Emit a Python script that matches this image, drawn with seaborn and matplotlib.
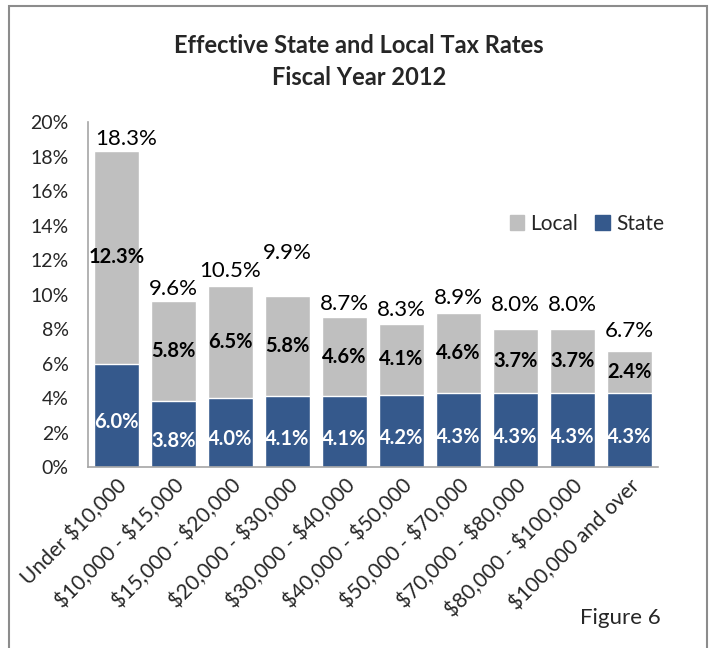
import numpy as np
import pandas as pd
import matplotlib
matplotlib.use("Agg")
import matplotlib.pyplot as plt
import seaborn as sns
from matplotlib.patches import Patch, Rectangle

brackets = ["Under $10,000", "$10,000 - $15,000", "$15,000 - $20,000",
            "$20,000 - $30,000", "$30,000 - $40,000", "$40,000 - $50,000",
            "$50,000 - $70,000", "$70,000 - $80,000", "$80,000 - $100,000",
            "$100,000 and over"]
state = [6.0, 3.8, 4.0, 4.1, 4.1, 4.2, 4.3, 4.3, 4.3, 4.3]
local = [12.3, 5.8, 6.5, 5.8, 4.6, 4.1, 4.6, 3.7, 3.7, 2.4]
total = [18.3, 9.6, 10.5, 9.9, 8.7, 8.3, 8.9, 8.0, 8.0, 6.7]

# nudges (points) for the total labels, as placed in the original
total_dx = [7, 0, 0, 0, 0, 0, 0, 0, 0, 0]
total_dy = [0, 0, 2, 22, 0, 1, 2, 8, 8, 6]

sns.set_theme(style="white")
plt.rcParams["font.family"] = ["Lato", "DejaVu Sans"]

df = pd.DataFrame({"bracket": brackets, "State": state, "Local": local, "Total": total})

blue = "#35598C"
grey = "#BFBFBF"

fig = plt.figure(figsize=(7.18, 6.48), dpi=100)
ax = fig.add_axes([0.1226, 0.2793, 0.7939, 0.5324])

sns.barplot(data=df, x="bracket", y="Total", color=grey, width=0.78,
            saturation=1, ax=ax)
sns.barplot(data=df, x="bracket", y="State", color=blue, width=0.78,
            saturation=1, ax=ax)

for i in range(len(brackets)):
    ax.text(i, state[i] / 2 - 0.4, f"{state[i]:.1f}%", ha="center", va="center",
            color="white", fontsize=14.5, fontweight="bold")
    ax.text(i, state[i] + local[i] / 2, f"{local[i]:.1f}%", ha="center", va="center",
            color="black", fontsize=14.5, fontweight="bold")
    ax.annotate(f"{total[i]:.1f}%", (i, total[i]),
                xytext=(total_dx[i], 9 + total_dy[i]),
                textcoords="offset points", ha="center", va="center",
                color="black", fontsize=16)

ax.set_ylim(0, 20)
ax.set_xlim(-0.5, len(brackets) - 0.5)
ax.set_yticks(np.arange(0, 21, 2))
ax.set_yticklabels([f"{v}%" for v in range(0, 21, 2)], fontsize=14)
ax.set_xticks(range(len(brackets)))
ax.set_xticklabels([b.replace("$", r"\$") for b in brackets], rotation=45,
                   ha="right", rotation_mode="anchor", fontsize=15)
ax.tick_params(axis="x", length=0, pad=6)
ax.tick_params(axis="y", length=0, pad=14)
ax.set_xlabel("")
ax.set_ylabel("")

for s in ["top", "right"]:
    ax.spines[s].set_visible(False)
for s in ["left", "bottom"]:
    ax.spines[s].set_color("#A6A6A6")
    ax.spines[s].set_linewidth(1.2)

handles = [Patch(color=grey, label="Local"), Patch(color=blue, label="State")]
ax.legend(handles=handles, loc="center", bbox_to_anchor=(0.875, 0.705), ncol=2,
          frameon=False, fontsize=15, handlelength=0.7, handleheight=0.7,
          handletextpad=0.3, columnspacing=0.8)

fig.text(0.5, 0.930, "Effective State and Local Tax Rates", ha="center",
         va="center", fontsize=17, fontweight="bold")
fig.text(0.5, 0.881, "Fiscal Year 2012", ha="center", va="center",
         fontsize=17, fontweight="bold")
fig.text(0.864, 0.046, "Figure 6", ha="center", va="center", fontsize=16)

fig.patches.append(Rectangle((0.013, -0.05), 0.972, 1.04, transform=fig.transFigure,
                             fill=False, edgecolor="#8C8C8C", linewidth=1.5))

fig.savefig("out.png", dpi=100)
